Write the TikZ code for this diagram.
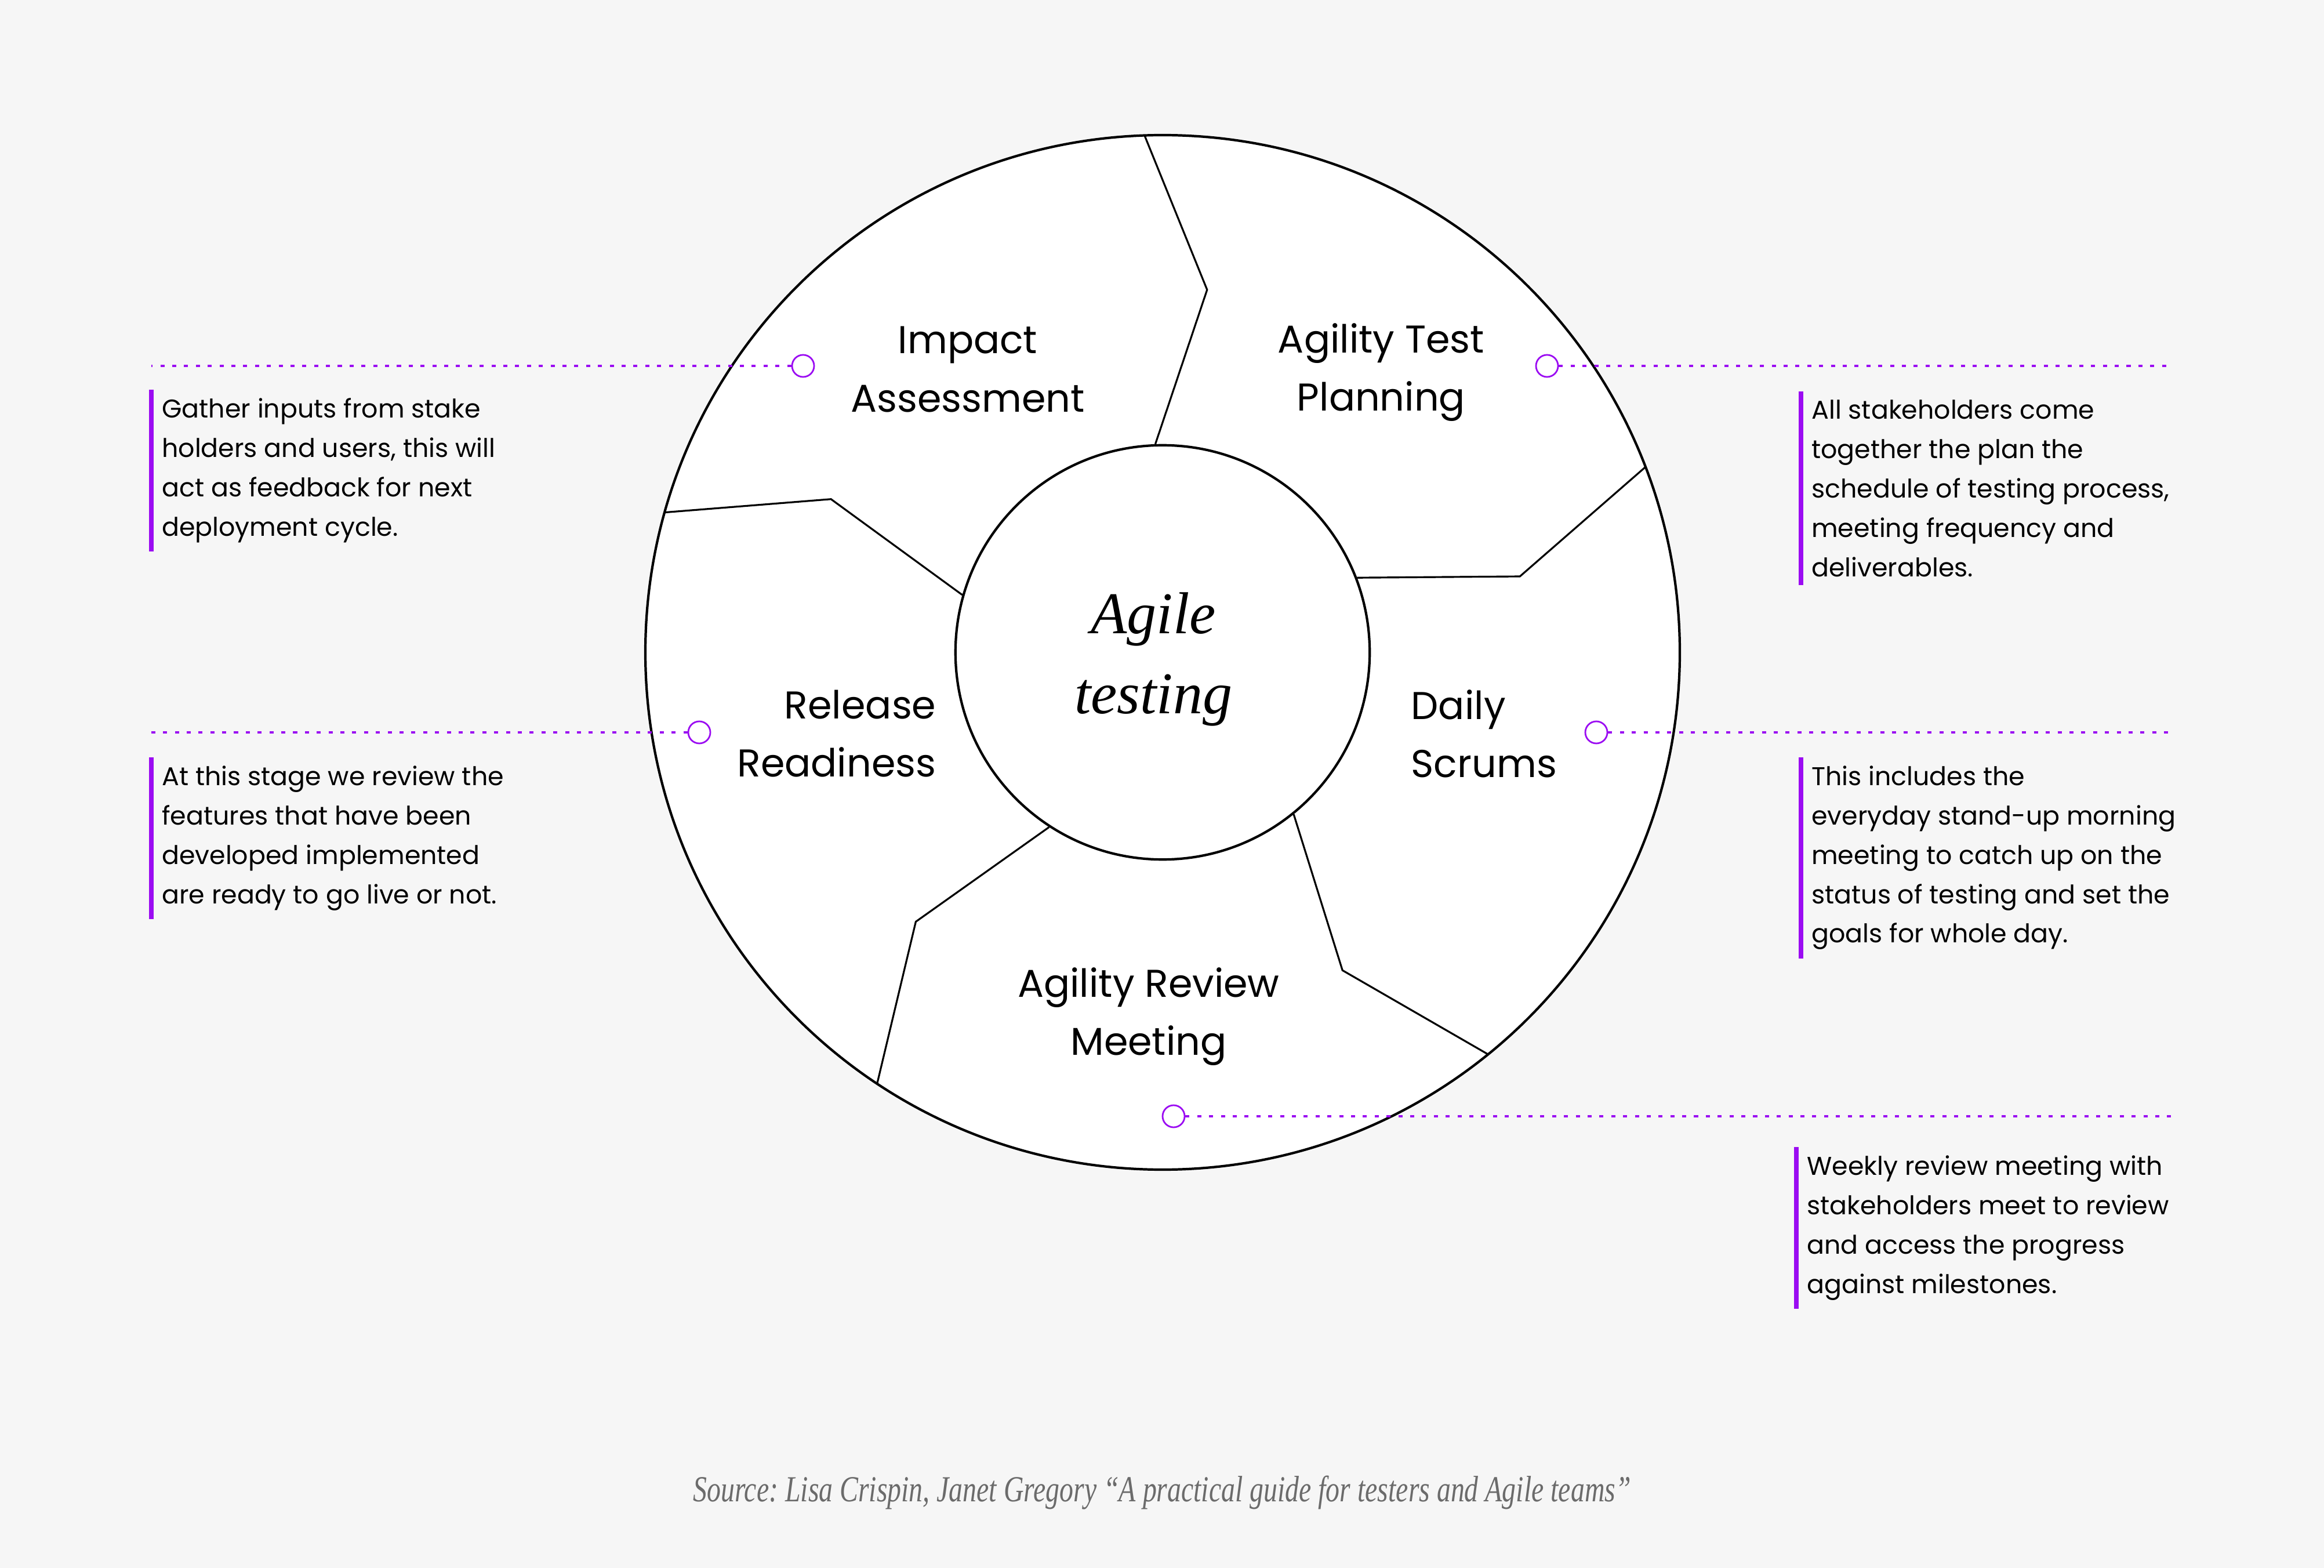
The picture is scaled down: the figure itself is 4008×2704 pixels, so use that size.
\documentclass[tikz,border=0pt]{standalone}
\usepackage{fontspec}
\setmainfont{Poppins}
\newfontfamily\hubfont{Liberation Serif}
\newfontfamily\srcfont{Liberation Serif}[FakeStretch=0.755]
\usetikzlibrary{calc}
\definecolor{violetline}{HTML}{9B0CF2}
\definecolor{paper}{HTML}{F6F6F6}
\definecolor{srcgray}{HTML}{6B6B6B}

\begin{document}
\begin{tikzpicture}[
  x=0.01cm, y=0.01cm,
  ring/.style={draw=black, line width=1.2pt, fill=white},
  hub/.style={circle, draw=black, line width=1.2pt, fill=white,
    minimum size=7.14cm, inner sep=0pt},
  hubtext/.style={align=center, inner sep=0pt,
    font=\hubfont\itshape\fontsize{29}{39}\selectfont},
  divider/.style={draw=black, line width=0.9pt, line join=miter},
  stage/.style={font=\fontsize{19}{28.5}\selectfont, inner sep=0pt, align=center},
  pin/.style={circle, draw=violetline, line width=0.8pt, minimum size=0.38cm, inner sep=0pt},
  lead/.style={draw=violetline, line width=1.2pt, dash pattern=on 2pt off 3.8pt},
  note/.style={font=\fontsize{12.6}{19.3}\selectfont, align=left,
    inner xsep=5pt, inner ysep=4pt, anchor=north west},
  bar/.style={draw=violetline, line width=2.4pt},
  source/.style={font=\srcfont\itshape\fontsize{18}{20}\selectfont\frenchspacing, text=srcgray}
]

% Page
\fill[paper] (0,0) rectangle (4008,-2704);
\useasboundingbox (0,0) rectangle (4008,-2704);

% Wheel
\coordinate (ctr) at (2005,-1125);
\draw[ring] (ctr) circle (892);
\node[hub] (hub) at (ctr) {};
\node[hubtext] (title) at (1989,-1137) {Agile\\testing};

% Dividers between the stages
\foreach \a/\b in {92/83, 21/12, -51/-60.5, -123.5/-132.5, 164.3/155.2}
  \draw[divider] (hub.\a) -- ($(ctr)+(\b:630)$) -- ($(ctr)+(\a:892)$);

% Stage labels
\node[stage] (impact) at (1669,-637) {Impact\\Assessment};
\node[stage] (plan) at (2382,-642) {Agility Test\\Planning};
\node[stage, align=left, anchor=west] (daily) at (2433,-1265) {Daily\\Scrums};
\node[stage, align=right, anchor=east] (release) at (1615,-1265) {Release\\Readiness};
\node[stage] (review) at (1981,-1753) {Agility Review\\Meeting};

% Pins and leader lines
\node[pin] (p1) at (1385,-631) {};
\node[pin] (p2) at (1206,-1263) {};
\node[pin] (p3) at (2668,-631) {};
\node[pin] (p4) at (2753,-1263) {};
\node[pin] (p5) at (2024,-1925) {};
\coordinate (e1) at (261,-631);
\coordinate (e2) at (261,-1263);
\coordinate (e3) at (3747,-631);
\coordinate (e4) at (3747,-1263);
\coordinate (e5) at (3747,-1925);
\draw[lead] (p1.west) -- (e1);
\draw[lead] (p2.west) -- (e2);
\draw[lead] (p3.east) -- (e3);
\draw[lead] (p4.east) -- (e4);
\draw[lead] (p5.east) -- (e5);

% Notes
\node[note] (n1) at (261,-672) {Gather inputs from stake\\holders and users, this will\\act as feedback for next\\deployment cycle.};
\node[note] (n2) at (261,-1306) {At this stage we review the\\features that have been\\developed implemented\\are ready to go live or not.};
\node[note] (n3) at (3106,-675) {All stakeholders come\\together the plan the\\schedule of testing process,\\meeting frequency and\\deliverables.};
\node[note] (n4) at (3106,-1306) {This includes the\\everyday stand-up morning\\meeting to catch up on the\\status of testing and set the\\goals for whole day.};
\node[note] (n5) at (3098,-1978) {Weekly review meeting with\\stakeholders meet to review\\and access the progress\\against milestones.};
\foreach \n in {n1,n2,n3,n4,n5}
  \draw[bar] (\n.north west) -- (\n.south west);

% Source
\node[source] (src) at (2004,-2574) {Source: Lisa Crispin, Janet Gregory “A practical guide for testers and Agile teams”};

\end{tikzpicture}
\end{document}
